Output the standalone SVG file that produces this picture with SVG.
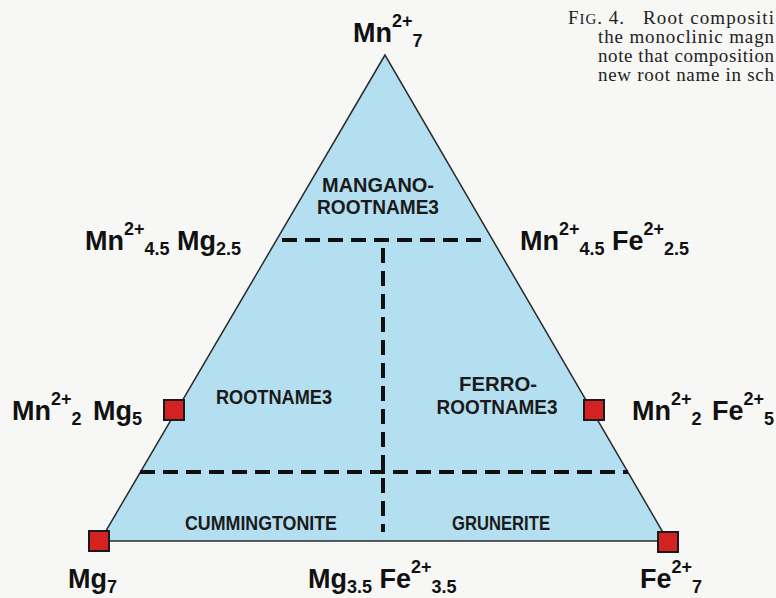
<svg xmlns="http://www.w3.org/2000/svg" width="776" height="598" viewBox="0 0 776 598">
<style>
.lbl{font-family:"Liberation Sans",Arial,sans-serif;font-weight:bold;font-size:27px;fill:#111}
.s{font-size:18px}
.in{font-family:"Liberation Sans",Arial,sans-serif;font-weight:bold;font-size:20px;fill:#1a1a1a;text-anchor:middle}
.cap{font-family:"Liberation Serif","Times New Roman",serif;font-size:19px;fill:#222}
.dash{stroke:#111;stroke-width:4;stroke-dasharray:15 8;fill:none}
.sq{fill:#d42222;stroke:#1a1a1a;stroke-width:2}
</style>
<rect width="776" height="598" fill="#f7f7f5"/>
<g id="caption">
<text class="cap" x="568" y="24" textLength="56" lengthAdjust="spacing">F<tspan font-size="15">IG</tspan>. 4.</text>
<text class="cap" x="643" y="24" textLength="131" lengthAdjust="spacing">Root compositi</text>
<text class="cap" x="598" y="43" textLength="176" lengthAdjust="spacing">the monoclinic magn</text>
<text class="cap" x="598" y="62" textLength="176" lengthAdjust="spacing">note that composition</text>
<text class="cap" x="598" y="81" textLength="176" lengthAdjust="spacing">new root name in sch</text>
</g>
<g id="triangle">
<polygon points="385,55 100,541 668,541" fill="#b4dff0" stroke="#2a2a2a" stroke-width="1.5"/>
</g>
<g id="connectors">
<line class="dash" x1="282" y1="240" x2="487" y2="240"/>
<line class="dash" x1="140" y1="472" x2="628" y2="472"/>
<line class="dash" x1="383" y1="248" x2="383" y2="532"/>
</g>
<g id="regions">
<g id="mangano"><text class="in" x="378" y="192" textLength="112" lengthAdjust="spacingAndGlyphs">MANGANO-</text><text class="in" x="378" y="214" textLength="122" lengthAdjust="spacingAndGlyphs">ROOTNAME3</text></g>
<g id="rootname"><text class="in" x="274" y="404" textLength="116" lengthAdjust="spacingAndGlyphs">ROOTNAME3</text></g>
<g id="ferro"><text class="in" x="498" y="391" textLength="78" lengthAdjust="spacingAndGlyphs">FERRO-</text><text class="in" x="497" y="414" textLength="121" lengthAdjust="spacingAndGlyphs">ROOTNAME3</text></g>
<g id="cummingtonite"><text class="in" x="261" y="530" textLength="152" lengthAdjust="spacingAndGlyphs">CUMMINGTONITE</text></g>
<g id="grunerite"><text class="in" x="501" y="530" textLength="98" lengthAdjust="spacingAndGlyphs">GRUNERITE</text></g>
</g>
<g id="markers">
<rect class="sq" x="89" y="531" width="20" height="20"/>
<rect class="sq" x="658" y="532" width="20" height="20"/>
<rect class="sq" x="164" y="400" width="20" height="20"/>
<rect class="sq" x="584" y="400" width="20" height="20"/>
</g>
<g id="labels">
<g id="apex"><text class="lbl" x="353" y="42">Mn<tspan class="s" dy="-15">2+</tspan><tspan class="s" dy="20">7</tspan></text></g>
<g id="mn45mg"><text class="lbl" x="85" y="250">Mn<tspan class="s" dy="-15">2+</tspan><tspan class="s" dy="20">4.5</tspan><tspan dy="-5"> Mg</tspan><tspan class="s" dy="5">2.5</tspan></text></g>
<g id="mn45fe"><text class="lbl" x="520" y="250">Mn<tspan class="s" dy="-15">2+</tspan><tspan class="s" dy="20">4.5</tspan><tspan dy="-5"> Fe</tspan><tspan class="s" dy="-15">2+</tspan><tspan class="s" dy="20">2.5</tspan></text></g>
<g id="mn2mg5"><text class="lbl" x="12" y="420">Mn<tspan class="s" dy="-15">2+</tspan><tspan class="s" dy="20">2</tspan><tspan dx="4" dy="-5"> Mg</tspan><tspan class="s" dy="5">5</tspan></text></g>
<g id="mn2fe5"><text class="lbl" x="632" y="420">Mn<tspan class="s" dy="-15">2+</tspan><tspan class="s" dy="20">2</tspan><tspan dx="3" dy="-5"> Fe</tspan><tspan class="s" dy="-15">2+</tspan><tspan class="s" dy="20">5</tspan></text></g>
<g id="mg7"><text class="lbl" x="68" y="588">Mg<tspan class="s" dy="5">7</tspan></text></g>
<g id="mg35fe35"><text class="lbl" x="308" y="588">Mg<tspan class="s" dy="5">3.5</tspan><tspan dy="-5"> Fe</tspan><tspan class="s" dy="-15">2+</tspan><tspan class="s" dy="20">3.5</tspan></text></g>
<g id="fe7"><text class="lbl" x="640" y="588">Fe<tspan class="s" dy="-15">2+</tspan><tspan class="s" dy="20">7</tspan></text></g>
</g>
</svg>
